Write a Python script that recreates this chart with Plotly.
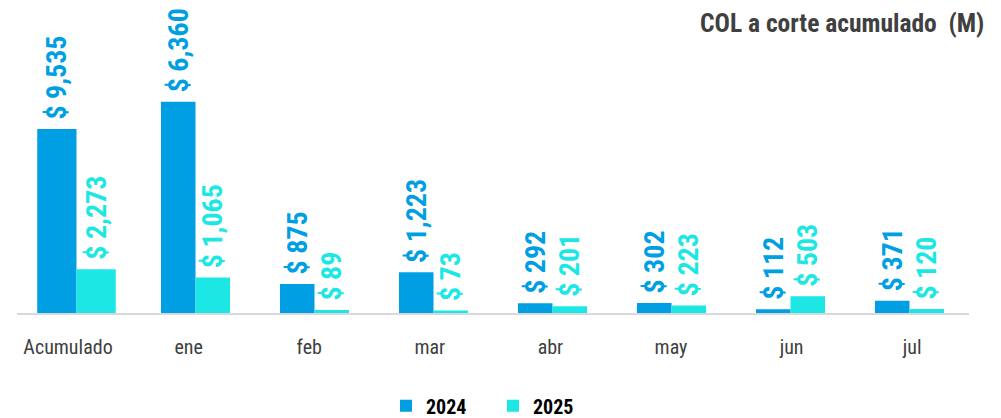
import plotly.graph_objects as go

categories = ["Acumulado", "ene", "feb", "mar", "abr", "may", "jun", "jul"]
acum_cat = ["Acumulado"]
months = ["ene", "feb", "mar", "abr", "may", "jun", "jul"]
acum_2024 = [9535]
acum_2025 = [2273]
m_2024 = [6360, 875, 1223, 292, 302, 112, 371]
m_2025 = [1065, 89, 73, 201, 223, 503, 120]

C24 = "#009FE3"
C25 = "#1DE7E4"
FONT = "Roboto Condensed, DejaVu Sans Condensed, sans-serif"

fig = go.Figure()

def bar(x, y, color, name, offset, width, yaxis, showlegend):
    return go.Bar(
        x=x, y=y, name=name, marker=dict(color=color, line=dict(width=0)),
        offset=offset, width=width, yaxis=yaxis, showlegend=showlegend,
        legendgroup=name,
        texttemplate="\u00a0$ %{y:,.0f}", textposition="outside", textangle=-90,
        constraintext="none", cliponaxis=False,
        textfont=dict(family=FONT, size=28, color=color, weight="bold"),
        hoverinfo="skip",
    )

fig.add_trace(bar(acum_cat, acum_2024, C24, "2024", -0.33, 0.33, "y2", False))
fig.add_trace(bar(acum_cat, acum_2025, C25, "2025", 0.0, 0.33, "y2", False))
fig.add_trace(bar(months, m_2024, C24, "2024", -0.29, 0.29, "y", True))
fig.add_trace(bar(months, m_2025, C25, "2025", 0.0, 0.29, "y", True))

# invisible helper trace so the tick-label axis is drawn
fig.add_trace(go.Scatter(
    x=list(range(len(categories))), y=[0] * len(categories), xaxis="x2", yaxis="y",
    mode="markers", marker=dict(opacity=0, size=1), showlegend=False, hoverinfo="skip",
))

fig.update_layout(
    width=1001, height=418,
    margin=dict(l=17, r=32, t=14, b=105, autoexpand=False),
    paper_bgcolor="white", plot_bgcolor="white",
    barmode="overlay",
    showlegend=True,
    xaxis=dict(
        type="category", categoryorder="array", categoryarray=categories,
        range=[-0.5, 7.5], showline=True, linecolor="#D9D9D9", linewidth=2,
        showgrid=False, zeroline=False, ticks="", automargin=False,
        showticklabels=False,
    ),
    xaxis2=dict(
        type="linear", overlaying="x", anchor="y", side="bottom",
        range=[-0.423, 7.471], tickmode="array",
        tickvals=list(range(len(categories))), ticktext=categories,
        showline=False, showgrid=False, zeroline=False, ticks="",
        automargin=False,
        tickfont=dict(family=FONT, size=20, color="#404040"),
        ticklabelstandoff=20,
    ),
    yaxis=dict(range=[0, 9000], visible=False),
    yaxis2=dict(range=[0, 15500], visible=False, overlaying="y"),
    legend=dict(
        orientation="h", x=0.5, xanchor="center", y=-0.31, yanchor="middle",
        font=dict(family=FONT, size=20, color="#000000", weight="bold"),
        entrywidth=62, traceorder="normal",
    ),
    annotations=[dict(
        text="COL a corte acumulado  (M)", xref="paper", yref="paper",
        x=1.0179, y=0.97, xanchor="right", yanchor="middle", showarrow=False,
        font=dict(family=FONT, size=25.5, color="#404040", weight="bold"),
    )],
)

fig.write_html("out.html", config={"displayModeBar": False},
               post_script="document.body.style.margin='0';document.body.style.overflow='hidden';")
